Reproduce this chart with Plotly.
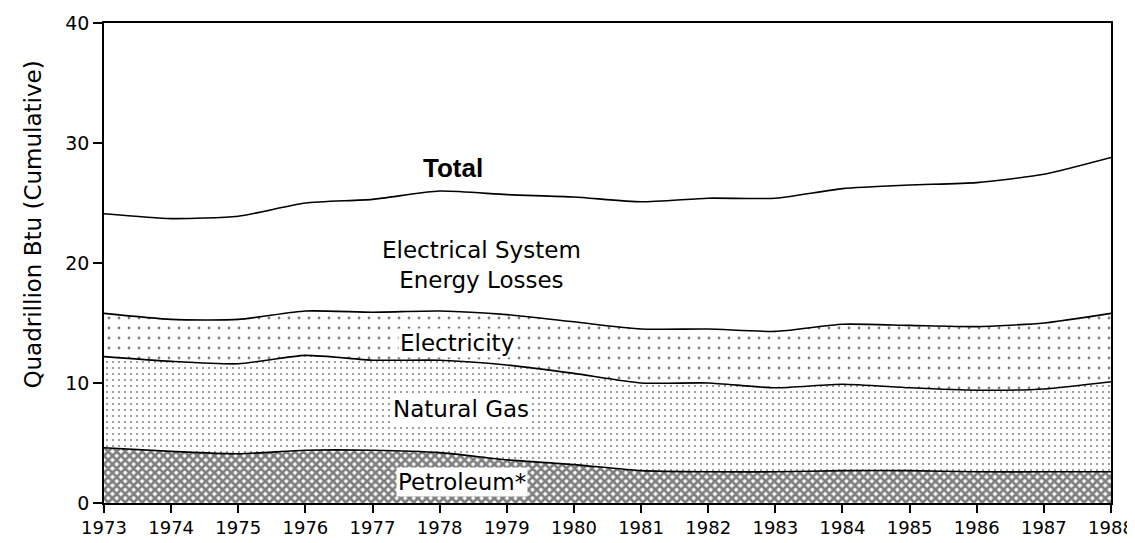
import numpy as np
import plotly.graph_objects as go

years = list(range(1973, 1989))
petroleum = [4.6, 4.3, 4.1, 4.4, 4.4, 4.2, 3.6, 3.2, 2.7, 2.6, 2.6, 2.7, 2.7, 2.6, 2.6, 2.6]
natural_gas = [7.6, 7.5, 7.5, 7.9, 7.5, 7.7, 7.9, 7.6, 7.3, 7.4, 7.0, 7.2, 6.9, 6.8, 6.9, 7.5]
electricity = [3.6, 3.5, 3.7, 3.7, 4.0, 4.1, 4.2, 4.3, 4.5, 4.5, 4.7, 5.0, 5.2, 5.3, 5.5, 5.7]
elec_losses = [8.3, 8.4, 8.6, 9.0, 9.4, 10.0, 10.0, 10.4, 10.6, 10.9, 11.1, 11.3, 11.7, 12.0, 12.4, 13.0]
y_ticks = [0, 10, 20, 30, 40]

cum1 = np.array(petroleum)
cum2 = cum1 + np.array(natural_gas)
cum3 = cum2 + np.array(electricity)
cum4 = cum3 + np.array(elec_losses)

FONT = "DejaVu Sans"
line = dict(color="black", width=1.6, shape="spline", smoothing=0.6)

fig = go.Figure()
fig.add_trace(go.Scatter(
    x=years, y=cum1, mode="lines", line=line, fill="tozeroy",
    fillcolor="white",
    fillpattern=dict(shape="x", size=6, solidity=0.7, fgcolor="black", bgcolor="white"),
    name="Petroleum*"))
fig.add_trace(go.Scatter(
    x=years, y=cum2, mode="lines", line=line, fill="tonexty",
    fillcolor="white",
    fillpattern=dict(shape=".", size=6, solidity=0.09, fgcolor="black", bgcolor="white"),
    name="Natural Gas"))
fig.add_trace(go.Scatter(
    x=years, y=cum3, mode="lines", line=line, fill="tonexty",
    fillcolor="white",
    fillpattern=dict(shape=".", size=10, solidity=0.06, fgcolor="black", bgcolor="white"),
    name="Electricity"))
fig.add_trace(go.Scatter(
    x=years, y=cum4, mode="lines", line=line,
    name="Total"))

ann_font = dict(family=FONT, size=23, color="black")
annotations = [
    dict(x=1978.2, y=27.9, text="<b>Total</b>",
         font=dict(family="Liberation Sans", size=26, color="black")),
    dict(x=1978.62, y=19.8, text="Electrical System<br>Energy Losses", font=ann_font),
    dict(x=1978.26, y=13.3, text="Electricity", font=ann_font, bgcolor="white", borderpad=1),
    dict(x=1978.32, y=7.8, text="Natural Gas", font=ann_font, bgcolor="white", borderpad=1),
    dict(x=1978.34, y=1.75, text="Petroleum*", font=ann_font, bgcolor="white", borderpad=1),
]
for a in annotations:
    a.update(xref="x", yref="y", showarrow=False)
annotations.append(dict(
    text="Quadrillion Btu (Cumulative)", xref="paper", yref="paper",
    x=0, y=0.58, xshift=-71, textangle=-90, showarrow=False,
    xanchor="center", yanchor="middle",
    font=dict(family=FONT, size=23, color="black")))

fig.update_layout(
    width=1135, height=543,
    margin=dict(l=96, r=32, t=15, b=48, autoexpand=False),
    paper_bgcolor="white", plot_bgcolor="white",
    showlegend=False,
    annotations=annotations,
    font=dict(family=FONT, size=18, color="black"),
)
fig.update_xaxes(
    range=[1973, 1988], tickvals=years, ticktext=[str(y) for y in years],
    ticks="outside", ticklen=8, tickwidth=1.5, tickcolor="black",
    showline=True, linecolor="black", linewidth=1.6, mirror=True,
    showgrid=False, zeroline=False, automargin=False,
    tickfont=dict(family=FONT, size=18, color="black"))
fig.update_yaxes(
    range=[0, 40], tickvals=y_ticks,
    ticks="outside", ticklen=9, tickwidth=1.5, tickcolor="black",
    showline=True, linecolor="black", linewidth=1.6, mirror=True,
    showgrid=False, zeroline=False, automargin=False,
    tickfont=dict(family=FONT, size=19, color="black"))

fig.write_html("out.html")
